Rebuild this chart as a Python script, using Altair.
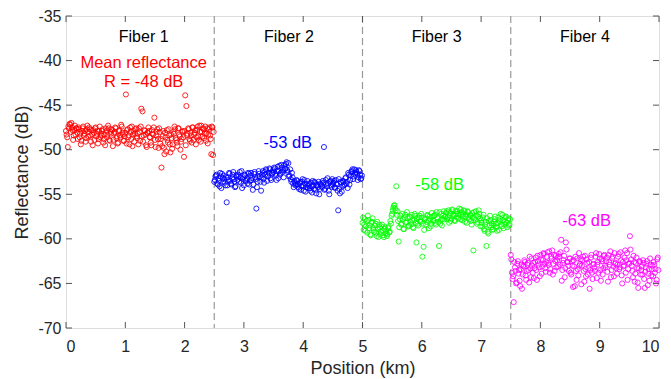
import altair as alt
import pandas as pd

# Fiber samples, first interleaved set (x = start + 0.01 + i*0.02)
fiber1 = [
    -48.3, -49.7, -47.6, -47.2, -47.0, -47.8, -48.4, -47.3, -47.6, -48.1,
    -47.5, -48.6, -49.4, -47.9, -47.4, -48.2, -49.1, -47.7, -48.0, -47.5,
    -48.4, -47.8, -49.5, -48.1, -47.6, -48.5, -47.9, -48.8, -47.4, -48.2,
    -47.9, -49.2, -48.3, -47.6, -48.6, -47.3, -48.9, -48.0, -47.7, -49.6,
    -48.2, -47.5, -48.7, -49.3, -47.9, -48.4, -47.2, -48.1, -49.0, -48.5,
    -43.8, -47.8, -48.6, -49.4, -48.0, -47.4, -48.3, -49.1, -47.7, -48.5,
    -48.2, -47.6, -49.0, -45.4, -45.7, -48.4, -47.9, -49.5, -48.1, -47.5,
    -48.6, -49.2, -47.8, -48.3, -46.4, -49.7, -48.0, -48.8, -47.6, -49.3,
    -52.0, -48.5, -49.8, -48.1, -50.2, -48.9, -47.7, -49.4, -48.3, -49.9,
    -48.0, -47.4, -48.7, -49.2, -47.6, -48.3, -50.0, -48.8, -47.9, -50.8,
    -43.9, -45.1, -48.2, -47.7, -49.0, -48.4, -47.5, -48.9, -48.1, -49.4,
    -47.8, -48.5, -47.3, -49.1, -48.0, -47.6, -48.7, -47.4, -48.2, -49.3,
    -47.7, -48.4, -50.5, -47.5, -48.0,
]
fiber2 = [
    -53.4, -52.9, -53.8, -53.2, -54.1, -53.0, -52.7, -53.6, -53.3, -54.0,
    -55.9, -53.1, -52.6, -53.5, -53.9, -52.8, -53.3, -54.2, -52.9, -53.4,
    -53.0, -52.5, -53.7, -54.3, -53.1, -52.8, -53.5, -53.2, -52.6, -53.9,
    -52.9, -53.4, -54.5, -52.7, -53.1, -56.6, -53.6, -52.4, -53.0, -54.6,
    -52.8, -53.3, -52.5, -52.2, -53.5, -52.9, -52.1, -53.2, -52.6, -52.3,
    -52.0, -52.7, -53.4, -51.9, -52.4, -52.8, -51.7, -52.5, -53.1, -52.2,
    -51.6, -52.3, -51.5, -52.9, -53.3, -52.6, -53.8, -53.5, -54.0, -53.4,
    -53.9, -54.4, -53.6, -54.1, -53.3, -54.6, -53.8, -54.2, -53.5, -54.0,
    -54.3, -53.7, -54.8, -54.0, -53.6, -54.5, -53.9, -54.2, -55.0, -53.8,
    -54.1, -53.5, -49.7, -54.4, -53.8, -53.2, -54.6, -53.6, -54.0, -53.3,
    -53.7, -54.2, -53.4, -53.9, -56.8, -54.4, -53.6, -54.7, -53.5, -54.0,
    -53.2, -53.8, -54.3, -52.8, -53.4, -52.5, -52.2, -53.0, -52.6, -52.3,
    -52.7, -53.1, -52.4, -53.3, -52.9,
]
fiber3 = [
    -57.6, -58.4, -59.1, -58.0, -57.4, -58.8, -59.5, -58.2, -57.7, -59.0,
    -58.5, -59.3, -58.1, -59.8, -58.7, -59.2, -58.4, -59.6, -58.9, -59.4,
    -59.7, -58.8, -59.3, -58.0, -57.4, -56.8, -56.3, -56.6, -54.1, -56.9,
    -60.3, -57.8, -58.4, -57.2, -58.9, -57.6, -58.2, -57.0, -58.6, -57.5,
    -58.1, -57.3, -58.7, -57.9, -57.4, -60.4, -58.3, -57.6, -58.0, -57.2,
    -62.0, -60.9, -57.8, -58.4, -57.3, -58.0, -57.5, -58.6, -57.1, -57.9,
    -57.4, -58.2, -57.0, -57.7, -60.8, -58.3, -57.2, -57.8, -56.9, -57.5,
    -57.1, -57.8, -56.8, -57.4, -58.0, -56.7, -57.3, -57.9, -56.9, -57.6,
    -57.2, -56.6, -57.8, -57.0, -57.5, -56.8, -58.1, -57.3, -56.9, -57.6,
    -57.4, -58.0, -57.1, -61.3, -57.7, -56.9, -58.3, -57.5, -57.2, -58.6,
    -58.2, -57.6, -58.9, -58.4, -60.8, -59.2, -58.0, -57.4, -58.7, -59.0,
    -58.5, -57.8, -58.3, -59.1, -57.6, -58.0, -57.2, -58.6, -57.9, -58.4,
    -57.6, -58.2, -57.9, -58.5, -57.8,
]
fiber4 = [
    -62.3, -64.5, -67.1, -63.2, -65.0, -62.8, -63.9, -64.7, -63.4, -65.6,
    -63.0, -62.4, -64.1, -63.6, -62.7, -64.9, -63.3, -62.2, -63.8, -64.4,
    -62.6, -63.5, -61.9, -62.9, -64.2, -62.3, -63.1, -61.6, -62.8, -63.7,
    -62.0, -62.7, -61.4, -63.4, -62.2, -64.0, -61.8, -62.5, -63.2, -62.1,
    -61.7, -62.9, -60.1, -63.5, -62.4, -64.3, -60.4, -62.6, -63.0, -62.2,
    -63.8, -62.5, -65.4, -63.1, -62.0, -64.6, -63.4, -61.6, -62.8, -65.1,
    -62.4, -63.6, -61.9, -64.2, -62.7, -63.3, -65.6, -62.1, -63.8, -62.9,
    -63.2, -62.0, -64.4, -62.6, -61.7, -63.5, -62.3, -64.0, -61.9, -63.0,
    -62.5, -63.7, -61.8, -62.9, -64.3, -62.2, -63.1, -61.6, -62.7, -63.9,
    -62.0, -63.4, -61.5, -64.1, -62.6, -63.0, -61.3, -62.4, -64.6, -62.8,
    -59.7, -62.3, -63.6, -61.9, -64.8, -62.7, -63.3, -65.5, -62.5, -64.0,
    -63.1, -62.4, -64.5, -63.7, -62.8, -65.2, -63.4, -62.2, -64.1, -63.0,
    -62.6, -63.8, -65.0, -62.3, -63.5,
]

# Second interleaved set (x = start + i*0.02)
fiber1b = [
    -47.9, -48.6, -47.4, -47.1, -48.0, -47.5, -48.9, -47.8, -48.3, -47.6,
    -48.8, -47.7, -48.2, -49.0, -47.6, -48.4, -47.9, -48.7, -47.3, -48.5,
    -47.7, -49.1, -48.3, -47.8, -48.9, -47.5, -48.2, -49.3, -47.9, -48.6,
    -48.4, -47.7, -48.8, -49.5, -47.9, -48.3, -47.6, -49.0, -48.2, -47.8,
    -48.9, -48.0, -47.6, -48.5, -49.2, -47.8, -48.6, -47.4, -48.3, -49.0,
    -48.1, -49.3, -47.7, -48.4, -47.5, -48.8, -49.6, -47.9, -48.2, -47.6,
    -48.7, -49.4, -48.0, -47.4, -48.5, -49.1, -47.8, -48.3, -49.7, -48.1,
    -47.9, -48.6, -49.5, -48.2, -47.5, -48.9, -48.4, -47.7, -49.8, -48.0,
    -48.8, -49.6, -47.9, -50.5, -48.6, -47.8, -49.2, -48.4, -50.3, -48.7,
    -49.4, -48.2, -47.7, -48.9, -49.6, -47.6, -48.5, -49.1, -48.0, -48.6,
    -47.9, -49.5, -48.4, -47.6, -48.8, -48.1, -49.2, -47.5, -48.3, -47.8,
    -48.6, -47.4, -48.9, -48.0, -47.3, -48.5, -47.7, -48.2, -49.0, -47.6,
    -48.3, -47.5, -48.8, -47.4, -50.6,
]
fiber2b = [
    -53.6, -53.0, -52.8, -53.9, -53.5, -52.6, -54.3, -53.2, -52.9, -53.7,
    -53.1, -54.0, -53.4, -52.7, -53.8, -53.2, -52.5, -53.6, -54.1, -53.0,
    -52.8, -53.6, -53.1, -52.4, -53.3, -54.0, -52.9, -53.4, -53.8, -52.7,
    -53.5, -52.6, -53.2, -53.9, -52.5, -53.3, -54.2, -53.0, -52.7, -53.6,
    -53.1, -52.4, -53.7, -52.8, -52.3, -53.0, -52.6, -52.2, -53.4, -52.7,
    -52.5, -52.1, -52.9, -52.4, -53.2, -51.8, -52.6, -52.0, -52.3, -51.7,
    -52.1, -51.4, -52.5, -53.0, -52.2, -53.6, -53.1, -54.2, -53.7, -53.9,
    -53.5, -54.2, -53.8, -54.5, -53.6, -54.0, -53.4, -54.7, -53.9, -54.3,
    -53.8, -54.6, -54.1, -53.5, -54.4, -53.7, -54.9, -54.0, -53.6, -54.4,
    -53.9, -54.2, -53.7, -54.5, -53.4, -54.1, -53.8, -55.0, -53.5, -54.2,
    -53.9, -53.5, -54.3, -53.8, -54.6, -53.3, -54.9, -53.7, -54.1, -53.6,
    -53.9, -53.1, -53.6, -52.6, -53.9, -52.9, -52.4, -53.3, -52.2, -52.8,
    -52.5, -53.4, -52.3, -52.8, -53.2,
]
fiber3b = [
    -58.2, -59.0, -57.8, -58.6, -59.3, -57.9, -58.5, -59.6, -58.1, -58.8,
    -59.2, -58.3, -59.7, -58.9, -58.4, -59.5, -58.6, -59.1, -59.8, -58.7,
    -59.1, -59.5, -58.6, -59.2, -58.3, -57.2, -56.5, -56.2, -56.8, -57.3,
    -58.0, -58.7, -57.4, -58.3, -57.8, -58.9, -57.3, -58.1, -57.7, -58.5,
    -57.6, -58.4, -57.9, -58.8, -57.2, -58.2, -57.7, -58.5, -57.4, -58.1,
    -57.6, -58.3, -59.0, -57.7, -58.1, -57.4, -58.8, -57.8, -58.3, -57.5,
    -58.0, -57.3, -58.4, -57.6, -58.1, -57.0, -57.9, -58.5, -57.4, -57.8,
    -57.5, -56.9, -57.6, -58.2, -57.1, -57.7, -56.8, -57.4, -58.0, -57.2,
    -56.9, -57.7, -57.3, -56.7, -57.9, -57.2, -56.9, -57.5, -58.2, -57.0,
    -57.8, -57.3, -58.4, -57.6, -57.0, -57.9, -57.4, -58.1, -56.8, -57.7,
    -57.9, -58.6, -57.3, -59.1, -58.1, -57.7, -59.4, -58.5, -57.9, -58.3,
    -58.9, -58.1, -57.5, -58.7, -58.2, -59.0, -57.8, -58.4, -57.3, -58.8,
    -58.1, -57.5, -58.7, -57.7, -58.4,
]
fiber4b = [
    -61.8, -63.8, -64.2, -62.6, -63.6, -64.9, -62.5, -63.5, -65.3, -62.9,
    -64.0, -63.1, -62.6, -64.6, -62.9, -63.5, -62.0, -64.3, -63.0, -62.7,
    -63.3, -62.1, -64.6, -62.5, -63.2, -61.8, -63.9, -62.4, -61.7, -63.3,
    -62.6, -61.5, -62.9, -63.8, -62.0, -61.3, -62.8, -63.6, -61.9, -62.4,
    -63.1, -62.0, -61.5, -64.7, -62.7, -61.9, -63.3, -61.2, -62.6, -63.6,
    -62.2, -64.0, -63.0, -62.4, -65.3, -63.6, -62.2, -64.1, -63.0, -62.3,
    -63.0, -62.0, -64.8, -63.4, -62.3, -64.0, -62.6, -63.5, -61.8, -64.5,
    -62.8, -63.6, -61.6, -62.9, -63.8, -62.2, -64.7, -62.5, -63.3, -61.8,
    -63.2, -62.1, -64.8, -62.6, -61.4, -63.5, -62.0, -64.2, -62.8, -63.3,
    -62.9, -61.7, -63.2, -62.4, -65.0, -63.1, -62.1, -63.8, -61.6, -63.4,
    -62.7, -61.2, -63.0, -64.3, -62.6, -63.9, -62.1, -64.9, -63.3, -62.6,
    -63.5, -64.0, -62.7, -65.5, -63.2, -62.5, -63.9, -64.7, -62.9, -63.4,
    -64.2, -62.9, -63.4, -64.6, -62.1,
]

fiber_names = ["Fiber 1", "Fiber 2", "Fiber 3", "Fiber 4"]
fiber_starts = [0.0, 2.5, 5.0, 7.5]
fiber_colors = ["#FF0000", "#0000FF", "#00FF00", "#FF00FF"]
sample_step = 0.02
boundaries = [2.5, 5.0, 7.5]
x_ticks = [0, 1, 2, 3, 4, 5, 6, 7, 8, 9, 10]
y_ticks = [-70, -65, -60, -55, -50, -45, -40, -35]

ann_text = ["Fiber 1", "Fiber 2", "Fiber 3", "Fiber 4",
            "Mean reflectance", "R = -48 dB", "-53 dB", "-58 dB", "-63 dB"]
ann_x = [1.31, 3.76, 6.25, 8.75, 1.31, 1.31, 3.74, 6.3, 8.78]
ann_y = [-37.4, -37.4, -37.4, -37.4, -40.3, -42.4, -49.3, -54.0, -58.0]
ann_color = ["#000000", "#000000", "#000000", "#000000",
             "#FF0000", "#FF0000", "#0000FF", "#00FF00", "#FF00FF"]
ann_size = [16, 16, 16, 16, 16.5, 16.5, 16.5, 16.5, 16.5]

rows = []
sets = [(fiber1, fiber1b), (fiber2, fiber2b), (fiber3, fiber3b), (fiber4, fiber4b)]
for name, start, (va, vb) in zip(fiber_names, fiber_starts, sets):
    for i, v in enumerate(va):
        rows.append({"pos": start + 0.01 + i * sample_step, "refl": v, "fiber": name})
    for i, v in enumerate(vb):
        rows.append({"pos": start + i * sample_step, "refl": v, "fiber": name})
df = pd.DataFrame(rows)

W, H = 593, 312
FONT = "Liberation Sans"
TXT = "#262626"

xscale = alt.Scale(domain=[0, 10], nice=False, zero=False)
yscale = alt.Scale(domain=[-70, -35], nice=False, zero=False)

points = alt.Chart(df).mark_point(filled=False, size=26, strokeWidth=1, opacity=0.85).encode(
    x=alt.X("pos:Q", scale=xscale,
            axis=alt.Axis(title="Position (km)", values=x_ticks, tickSize=0, domain=False,
                          grid=False, labelPadding=10, labelFontSize=16, labelFont=FONT,
                          labelColor=TXT, labelExpr="'' + datum.value",
                          titleFont=FONT, titleFontSize=18,
                          titleFontWeight="normal", titleColor=TXT, titlePadding=5)),
    y=alt.Y("refl:Q", scale=yscale,
            axis=alt.Axis(title="Reflectance (dB)", values=y_ticks, tickSize=0, domain=False,
                          grid=False, labelPadding=5, labelFontSize=16, labelFont=FONT,
                          labelColor=TXT, labelExpr="'' + datum.value",
                          titleFont=FONT, titleFontSize=18,
                          titleFontWeight="normal", titleColor=TXT, titlePadding=6)),
    color=alt.Color("fiber:N", scale=alt.Scale(domain=fiber_names, range=fiber_colors), legend=None),
)

bdf = pd.DataFrame({"b": boundaries})
dashes = alt.Chart(bdf).mark_rule(color="#999999", strokeDash=[7, 4], strokeWidth=1.2).encode(
    x=alt.X("b:Q", scale=xscale), y=alt.value(0), y2=alt.value(H))

xt = pd.DataFrame({"t": x_ticks})
yt = pd.DataFrame({"t": y_ticks})
tick_color = "#555555"
xt_bottom = alt.Chart(xt).mark_rule(color=tick_color).encode(
    x=alt.X("t:Q", scale=xscale), y=alt.value(H), y2=alt.value(H - 6))
xt_top = alt.Chart(xt).mark_rule(color=tick_color).encode(
    x=alt.X("t:Q", scale=xscale), y=alt.value(0), y2=alt.value(6))
yt_left = alt.Chart(yt).mark_rule(color=tick_color).encode(
    y=alt.Y("t:Q", scale=yscale), x=alt.value(0), x2=alt.value(6))
yt_right = alt.Chart(yt).mark_rule(color=tick_color).encode(
    y=alt.Y("t:Q", scale=yscale), x=alt.value(W), x2=alt.value(W - 6))

adf = pd.DataFrame({"x": ann_x, "y": ann_y, "text": ann_text, "c": ann_color, "s": ann_size})
texts = alt.Chart(adf).mark_text(font=FONT, align="center", baseline="middle").encode(
    x=alt.X("x:Q", scale=xscale), y=alt.Y("y:Q", scale=yscale), text="text:N",
    color=alt.Color("c:N", scale=None), size=alt.Size("s:Q", scale=None))

chart = alt.layer(dashes, points, xt_bottom, xt_top, yt_left, yt_right, texts).properties(
    width=W, height=H,
    autosize=alt.AutoSizeParams(type="none"),
    padding={"left": 58, "top": 8, "right": 4, "bottom": 51},
).configure_view(stroke="#555555", strokeWidth=1).configure(background="white")

chart.save("out.html", embed_options={"renderer": "svg", "actions": False})
